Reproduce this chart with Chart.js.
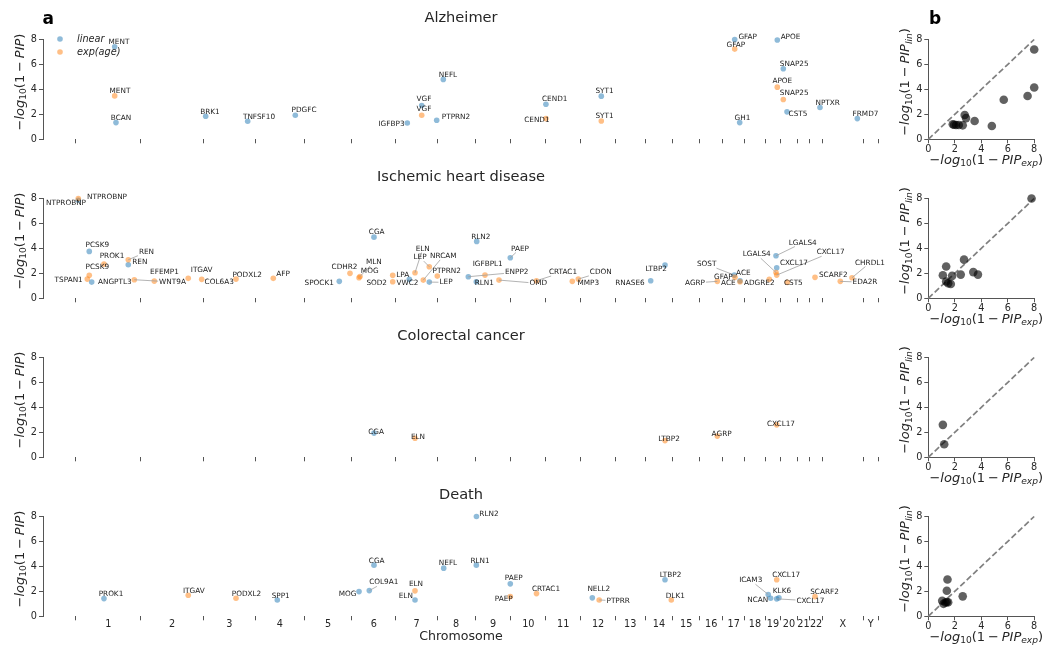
<!DOCTYPE html>
<html>
<head>
<meta charset="utf-8">
<title>Protein fine-mapping by chromosome</title>
<script src="https://cdn.jsdelivr.net/npm/chart.js@4/dist/chart.umd.min.js"></script>
<style>
  html, body { margin: 0; padding: 0; background: #ffffff; }
  #figure { position: relative; width: 1047px; height: 651px; overflow: hidden; background: #ffffff; }
  #figure canvas { position: absolute; }
</style>
</head>
<body>
<div id="figure"></div>
<script>
// ---------- chromosomes (GRCh38 lengths, Mb) ----------
const chromosomes = ['1','2','3','4','5','6','7','8','9','10','11','12','13','14','15','16','17','18','19','20','21','22','X','Y'];
const chromLengthsMb = [248.96,242.19,198.30,190.21,181.54,170.81,159.35,145.14,138.39,133.80,135.09,133.28,114.36,107.04,101.99,90.34,83.26,80.37,58.62,64.44,46.71,50.82,156.04,57.23];

const diseases = ['Alzheimer', 'Ischemic heart disease', 'Colorectal cancer', 'Death'];

// [protein, chromosome, position (Mb), -log10(1 - PIP)]
const alzheimerLinear = [
  ['MENT','1',149.0,7.42], ['BCAN','1',154.0,1.34], ['BRK1','3',8.3,1.85], ['TNFSF10','3',170.0,1.45],
  ['PDGFC','4',155.0,1.93], ['IGFBP3','7',43.7,1.31], ['VGF','7',99.2,2.71], ['PTPRN2','7',156.9,1.53],
  ['NEFL','8',23.0,4.80], ['CEND1','11',0.8,2.81], ['SYT1','12',78.9,3.46], ['GFAP','17',45.6,8.00],
  ['GH1','17',64.8,1.34], ['APOE','19',46.0,7.96], ['SNAP25','20',10.5,5.65], ['CST5','20',24.8,2.20],
  ['NPTXR','22',40.6,2.55], ['FRMD7','X',133.5,1.66]
];
const alzheimerExp = [
  ['MENT','1',149.0,3.48], ['VGF','7',99.2,1.93], ['CEND1','11',0.8,1.66], ['SYT1','12',78.9,1.47],
  ['GFAP','17',45.6,7.23], ['APOE','19',46.0,4.18], ['SNAP25','20',10.5,3.19]
];

const ischemicLinear = [
  ['NTPROBNP','1',8.9,7.86], ['PCSK9','1',51.2,3.76], ['ANGPTL3','1',60.5,1.30], ['REN','1',201.4,2.69],
  ['SPOCK1','5',134.2,1.36], ['CGA','6',86.3,4.90], ['VWC2','7',51.4,1.52], ['LEP','7',128.4,1.30],
  ['ENPP2','8',119.3,1.73], ['RLN2','9',6.4,4.56], ['RLN1','9',4.9,1.33], ['PAEP','9',135.8,3.25],
  ['RNASE6','14',21.5,1.41], ['LTBP2','14',76.6,2.66], ['SOST','17',44.0,1.86], ['ACE','17',66.0,1.40],
  ['LGALS4','19',41.0,3.41], ['CXCL17','19',43.7,2.45]
];
const ischemicExp = [
  ['NTPROBNP','1',8.9,8.00], ['TSPAN1','1',43.5,1.54], ['PCSK9','1',51.2,1.84], ['PROK1','1',107.8,2.74],
  ['REN','1',201.4,3.09], ['WNT9A','1',224.5,1.49], ['EFEMP1','2',52.5,1.38], ['ITGAV','2',183.3,1.60],
  ['COL6A3','2',235.1,1.52], ['PODXL2','3',125.0,1.54], ['AFP','4',70.3,1.60], ['CDHR2','5',175.4,2.00],
  ['MOG','6',28.6,1.65], ['MLN','6',32.4,1.75], ['LPA','6',158.3,1.84], ['SOD2','6',158.3,1.33],
  ['ELN','7',73.4,2.05], ['NRCAM','7',105.3,1.46], ['LEP','7',128.4,2.53], ['PTPRN2','7',159.2,1.78],
  ['IGFBPL1','9',38.4,1.86], ['OMD','9',92.3,1.46], ['CRTAC1','10',98.3,1.41], ['MMP3','11',102.4,1.36],
  ['CDON','11',125.5,1.54], ['AGRP','16',69.0,1.36], ['GFAP','17',46.7,1.68], ['ACE','17',66.0,1.33],
  ['ADGRE2','19',15.2,1.52], ['LGALS4','19',41.0,2.07], ['CXCL17','19',43.7,1.86], ['CST5','20',26.0,1.28],
  ['SCARF2','22',21.4,1.68], ['EDA2R','X',68.0,1.36], ['CHRDL1','X',113.0,1.65]
];

const colorectalLinear = [ ['CGA','6',86.3,1.94] ];
const colorectalExp = [ ['ELN','7',73.4,1.53], ['LTBP2','14',76.6,1.34], ['AGRP','16',69.0,1.70], ['CXCL17','19',43.7,2.60] ];

const deathLinear = [
  ['PROK1','1',107.8,1.42], ['SPP1','4',85.7,1.31], ['MOG','6',28.6,1.98], ['COL9A1','6',68.2,2.06],
  ['CGA','6',86.3,4.10], ['ELN','7',73.4,1.31], ['NEFL','8',24.5,3.86], ['RLN2','9',5.5,8.00],
  ['RLN1','9',5.0,4.10], ['PAEP','9',135.8,2.60], ['NELL2','12',44.3,1.48], ['LTBP2','14',76.6,2.93],
  ['ICAM3','19',11.0,1.75], ['NCAN','19',20.3,1.45], ['CXCL17','19',43.7,1.40], ['KLK6','19',52.2,1.48]
];
const deathExp = [
  ['ITGAV','2',183.3,1.69], ['PODXL2','3',125.0,1.45], ['ELN','7',73.4,2.04], ['PAEP','9',135.8,1.58],
  ['CRTAC1','10',98.3,1.82], ['PTPRR','12',70.8,1.31], ['DLK1','14',100.8,1.31], ['CXCL17','19',43.7,2.93],
  ['SCARF2','22',21.4,1.58]
];

// panel b: [-log10(1 - PIP_exp), -log10(1 - PIP_lin)]
const alzheimerPipPairs = [[8.0,7.2],[8.0,4.15],[7.5,3.47],[5.7,3.17],[3.5,1.47],[4.8,1.07],[2.75,1.95],[2.85,1.7],[1.85,1.2],[1.95,1.17],[2.1,1.15],[2.3,1.15],[2.6,1.12]];
const ischemicPipPairs = [[7.8,8.0],[2.7,3.1],[3.4,2.1],[3.75,1.9],[2.45,1.9],[1.35,2.55],[1.1,1.85],[1.8,1.8],[1.35,1.35],[1.5,1.2],[1.7,1.15]];
const colorectalPipPairs = [[1.1,2.6],[1.2,1.05]];
const deathPipPairs = [[1.45,2.95],[1.4,2.05],[2.6,1.6],[1.05,1.25],[1.15,1.0],[1.3,1.1],[1.5,1.12],[1.4,1.15]];

const yTickValues = [0, 2, 4, 6, 8];

// ---------- label placement (pixel offsets from the marker: dx, dy, connector) ----------
const labelPlacement = {
  '0|lin|MENT':[4.3,-4.7], '0|lin|BCAN':[5,-4.3], '0|lin|BRK1':[4.3,-4.5], '0|lin|TNFSF10':[11.3,-4],
  '0|lin|PDGFC':[8.7,-5], '0|lin|IGFBP3':[-15.8,1.3], '0|lin|VGF':[2.3,-6.3], '0|lin|PTPRN2':[19.3,-3.3],
  '0|lin|NEFL':[4.7,-4.3], '0|lin|CEND1':[8.8,-5.5], '0|lin|SYT1':[3.2,-4.7], '0|lin|GFAP':[13,-2],
  '0|lin|GH1':[2.8,-4.5], '0|lin|APOE':[13.2,-2.7], '0|lin|SNAP25':[10.9,-4.5], '0|lin|CST5':[11,2.5],
  '0|lin|NPTXR':[7.7,-4.6], '0|lin|FRMD7':[8.2,-4.3],
  '0|exp|MENT':[5.3,-5], '0|exp|VGF':[2.3,-6], '0|exp|CEND1':[-9,1.2], '0|exp|SYT1':[3.2,-4.5],
  '0|exp|GFAP':[1.1,-4.2], '0|exp|APOE':[5,-6.2], '0|exp|SNAP25':[10.9,-6],

  '1|lin|NTPROBNP':[-12.3,3.3], '1|lin|PCSK9':[8,-6.5], '1|lin|ANGPTL3':[23.1,0], '1|lin|REN':[11.5,-2.2],
  '1|lin|SPOCK1':[-20.1,1.4], '1|lin|CGA':[2.7,-5], '1|lin|VWC2':[-1.8,3.4], '1|lin|LEP':[16.7,0.3,1],
  '1|lin|ENPP2':[48.4,-4.4,1], '1|lin|RLN2':[4.1,-4.6], '1|lin|RLN1':[8,1], '1|lin|PAEP':[9.7,-9,1],
  '1|lin|RNASE6':[-20.7,2.6], '1|lin|LTBP2':[-8.8,3.7], '1|lin|SOST':[-27.6,-10.7,1], '1|lin|ACE':[3.3,-7.7],
  '1|lin|LGALS4':[26.7,-13,1], '1|lin|CXCL17':[17.3,-5],
  '1|exp|NTPROBNP':[28.7,-1.5], '1|exp|PCSK9':[8,-8.1], '1|exp|TSPAN1':[-18.6,1], '1|exp|PROK1':[8,-8],
  '1|exp|REN':[18.2,-7.7,1], '1|exp|WNT9A':[38.2,2.3,1], '1|exp|EFEMP1':[10.2,-8.5], '1|exp|ITGAV':[13.4,-8],
  '1|exp|COL6A3':[17.5,2.7], '1|exp|PODXL2':[11.2,-4], '1|exp|AFP':[9.7,-4.6], '1|exp|CDHR2':[-5.5,-6],
  '1|exp|MOG':[10.7,-6.4], '1|exp|MLN':[13.8,-14.4,1], '1|exp|LPA':[10.1,0], '1|exp|SOD2':[-16,1],
  '1|exp|ELN':[7.7,-24,1], '1|exp|NRCAM':[20,-24,1], '1|exp|LEP':[-9.3,-9.4,1], '1|exp|PTPRN2':[9.4,-4.7],
  '1|exp|IGFBPL1':[2.7,-11], '1|exp|OMD':[39.3,3.3,1], '1|exp|CRTAC1':[26.5,-8.5,1], '1|exp|MMP3':[16,2],
  '1|exp|CDON':[22.5,-6.8,1], '1|exp|AGRP':[-22.3,1.6,1], '1|exp|GFAP':[-11.7,-0.6], '1|exp|ACE':[-11.7,1],
  '1|exp|ADGRE2':[-10,3.4], '1|exp|LGALS4':[-19.3,-18,1], '1|exp|CXCL17':[54,-22.6,1], '1|exp|CST5':[6,0.4],
  '1|exp|SCARF2':[18.3,-2], '1|exp|EDA2R':[24.7,1,1], '1|exp|CHRDL1':[18,-15,1],

  '2|lin|CGA':[2,-1.3], '2|exp|ELN':[3,-1.4], '2|exp|LTBP2':[4,-1.2], '2|exp|AGRP':[4.3,-1.5], '2|exp|CXCL17':[4.3,-0.6],

  '3|lin|PROK1':[7,-4], '3|lin|SPP1':[3.4,-3.7], '3|lin|MOG':[-11.5,2.3], '3|lin|COL9A1':[14.5,-8,1],
  '3|lin|CGA':[2.7,-4.3], '3|lin|ELN':[-9.2,-4], '3|lin|NEFL':[4.3,-4.6], '3|lin|RLN2':[12.5,-2],
  '3|lin|RLN1':[3.7,-4.3], '3|lin|PAEP':[3.4,-5.7], '3|lin|NELL2':[6.5,-8.3], '3|lin|LTBP2':[5.5,-4.7],
  '3|lin|ICAM3':[-17.5,-14,1], '3|lin|NCAN':[-12.9,1.7], '3|lin|KLK6':[3,-6.7], '3|lin|CXCL17':[33.8,2,1],
  '3|exp|ITGAV':[5.6,-4.3], '3|exp|PODXL2':[10.5,-4.3], '3|exp|ELN':[1,-6.3], '3|exp|PAEP':[-6.5,2.3],
  '3|exp|CRTAC1':[9.5,-4.7], '3|exp|PTPRR':[19,1,1], '3|exp|DLK1':[4,-4], '3|exp|CXCL17':[9.5,-4.7],
  '3|exp|SCARF2':[9.5,-4.7]
};

// ---------- derived genome coordinates ----------
const chromStartMb = [];
chromLengthsMb.reduce((acc, len, i) => { chromStartMb[i] = acc; return acc + len; }, 0);
const genomeEndMb = chromStartMb[chromStartMb.length - 1] + chromLengthsMb[chromLengthsMb.length - 1];
const boundaryValues = chromStartMb.concat([genomeEndMb]);
const centreValues = chromStartMb.map((s, i) => s + chromLengthsMb[i] / 2);
const boundarySet = new Set(boundaryValues);
const centreLabel = new Map(centreValues.map((v, i) => [v, chromosomes[i]]));
const chromTickValues = boundaryValues.concat(centreValues).sort((a, b) => a - b);

function genomePos(chrom, posMb) { return chromStartMb[chromosomes.indexOf(chrom)] + posMb; }
function toPoints(rows) { return rows.map(([gene, chrom, pos, score]) => ({ x: genomePos(chrom, pos), y: score, gene })); }

const linearByDisease = [alzheimerLinear, ischemicLinear, colorectalLinear, deathLinear];
const expByDisease = [alzheimerExp, ischemicExp, colorectalExp, deathExp];
const pairsByDisease = [alzheimerPipPairs, ischemicPipPairs, colorectalPipPairs, deathPipPairs];

// ---------- styling ----------
const FONT = '"DejaVu Sans", sans-serif';
const TEXT = '#262626';
const SPINE = '#555555';
const LINEAR_COLOR = 'rgba(31,119,180,0.5)';
const EXP_COLOR = 'rgba(255,127,14,0.5)';
const PAIR_COLOR = 'rgba(0,0,0,0.62)';

Chart.defaults.font.family = FONT;
Chart.defaults.color = TEXT;
Chart.defaults.animation = false;

const ROW_TOP = [0, 159, 318, 477];
const AREA_TOP = 39.5, AREA_BOTTOM = 139.3;

const Y_LABEL = [{t:'−'},{t:'log',it:1},{t:'10',sub:1},{t:'(1'},{gap:0.22},{t:'−'},{gap:0.22},{t:'PIP',it:1},{t:')'}];
const Y_LABEL_LIN = [{t:'−'},{t:'log',it:1},{t:'10',sub:1},{t:'(1'},{gap:0.22},{t:'−'},{gap:0.22},{t:'PIP',it:1},{t:'lin',it:1,sub:1},{t:')'}];
const X_LABEL_EXP = [{t:'−'},{t:'log',it:1},{t:'10',sub:1},{t:'(1'},{gap:0.22},{t:'−'},{gap:0.22},{t:'PIP',it:1},{t:'exp',it:1,sub:1},{t:')'}];

// draws a small math-style label: (x, y) is the baseline position across the text and its centre along it
function drawMath(ctx, parts, size, x, y, vertical) {
  const runs = parts.map(p => {
    if (p.gap) return { gap: p.gap * size };
    const s = p.sub ? size * 0.7 : size;
    const font = (p.it ? 'italic ' : '') + s + 'px ' + FONT;
    ctx.font = font;
    return { text: p.t, font, w: ctx.measureText(p.t).width, drop: p.sub ? size * 0.22 : 0 };
  });
  const total = runs.reduce((a, r) => a + (r.gap || r.w), 0);
  ctx.save();
  ctx.translate(x, y);
  if (vertical) ctx.rotate(-Math.PI / 2);
  ctx.textAlign = 'left';
  ctx.textBaseline = 'alphabetic';
  ctx.fillStyle = TEXT;
  let cx = -total / 2;
  runs.forEach(r => {
    if (r.gap) { cx += r.gap; return; }
    ctx.font = r.font;
    ctx.fillText(r.text, cx, r.drop);
    cx += r.w;
  });
  ctx.restore();
}

const manhattanDecor = {
  id: 'manhattanDecor',
  afterDatasetsDraw(chart, _args, o) {
    const ctx = chart.ctx;
    ctx.save();
    ctx.font = '7.3px ' + FONT;
    const items = [];
    chart.data.datasets.forEach((ds, di) => {
      const meta = chart.getDatasetMeta(di);
      meta.data.forEach((el, i) => {
        const gene = ds.data[i].gene;
        const place = labelPlacement[o.row + '|' + ds.series + '|' + gene] || [4, -5, 0];
        items.push({ gene, px: el.x, py: el.y, lx: el.x + place[0], ly: el.y + place[1], connector: place[2] });
      });
    });
    ctx.strokeStyle = '#a0a0a0';
    ctx.lineWidth = 0.8;
    items.forEach(it => {
      if (!it.connector) return;
      const hw = ctx.measureText(it.gene).width / 2 + 1, hh = 3.8;
      const vx = it.px - it.lx, vy = it.py - it.ly;
      const t = Math.min(vx ? hw / Math.abs(vx) : Infinity, vy ? hh / Math.abs(vy) : Infinity);
      if (t >= 1) return;
      ctx.beginPath();
      ctx.moveTo(it.lx + vx * t, it.ly + vy * t);
      ctx.lineTo(it.px, it.py);
      ctx.stroke();
    });
    ctx.fillStyle = '#1a1a1a';
    ctx.textAlign = 'center';
    ctx.textBaseline = 'middle';
    items.forEach(it => ctx.fillText(it.gene, it.lx, it.ly));
    ctx.restore();
  },
  afterDraw(chart, _args, o) {
    const ctx = chart.ctx, area = chart.chartArea;
    ctx.save();
    ctx.fillStyle = TEXT;
    ctx.font = '14.6px ' + FONT;
    ctx.textAlign = 'center';
    ctx.textBaseline = 'alphabetic';
    ctx.fillText(o.title, (area.left + area.right) / 2, 21.7);
    if (o.letter) {
      ctx.font = 'bold 17px ' + FONT;
      ctx.fillStyle = '#000';
      ctx.fillText(o.letter, 48.3, 24);
    }
    if (o.legend) {
      const entries = [['linear', LINEAR_COLOR, 39], ['exp(age)', EXP_COLOR, 52]];
      ctx.font = 'italic 9.7px ' + FONT;
      ctx.textAlign = 'left';
      ctx.textBaseline = 'middle';
      entries.forEach(([name, colour, y]) => {
        ctx.fillStyle = colour;
        ctx.beginPath(); ctx.arc(60, y, 2.8, 0, Math.PI * 2); ctx.fill();
        ctx.fillStyle = TEXT;
        ctx.fillText(name, 77, y);
      });
    }
    ctx.restore();
    drawMath(ctx, Y_LABEL, 13, 23.5, 82, true);
  }
};

const pairDecor = {
  id: 'pairDecor',
  afterDraw(chart, _args, o) {
    const ctx = chart.ctx, area = chart.chartArea;
    drawMath(ctx, Y_LABEL_LIN, 13, area.left - 19.5, 82, true);
    drawMath(ctx, X_LABEL_EXP, 13, (area.left + area.right) / 2 + 5, 163.5, false);
    if (o.letter) {
      ctx.save();
      ctx.font = 'bold 17px ' + FONT;
      ctx.fillStyle = '#000';
      ctx.textAlign = 'center';
      ctx.fillText(o.letter, 55, 24);
      ctx.restore();
    }
  }
};

const fig = document.getElementById('figure');
function makeCanvas(left, top, w, h) {
  const c = document.createElement('canvas');
  c.width = w; c.height = h;
  c.style.left = left + 'px'; c.style.top = top + 'px';
  c.style.width = w + 'px'; c.style.height = h + 'px';
  fig.appendChild(c);
  return c;
}

function yAxis(width) {
  return {
    type: 'linear', min: 0, max: 8,
    ticks: { stepSize: 2, padding: 2, font: { size: 9.7 }, color: TEXT },
    afterBuildTicks: s => { s.ticks = yTickValues.map(v => ({ value: v })); },
    grid: { drawOnChartArea: false, drawTicks: true, tickLength: 4, tickColor: SPINE, tickWidth: 1 },
    border: { display: true, color: SPINE, width: 1 },
    afterFit: s => { s.width = width; }
  };
}

// ---------- panel a: genome-wide PIP per disease ----------
diseases.forEach((name, r) => {
  const last = r === diseases.length - 1;
  const W = 890, H = last ? 174 : 159;
  const canvas = makeCanvas(0, ROW_TOP[r], W, H);
  new Chart(canvas, {
    type: 'scatter',
    data: {
      datasets: [
        { series: 'exp', data: toPoints(expByDisease[r]), backgroundColor: EXP_COLOR, borderWidth: 0, pointRadius: 2.8, pointHoverRadius: 2.8, clip: false },
        { series: 'lin', data: toPoints(linearByDisease[r]), backgroundColor: LINEAR_COLOR, borderWidth: 0, pointRadius: 2.8, pointHoverRadius: 2.8, clip: false }
      ]
    },
    options: {
      responsive: false, devicePixelRatio: 1, events: [],
      layout: { padding: { top: AREA_TOP, right: W - 879, left: 0, bottom: 0 } },
      plugins: {
        legend: { display: false }, tooltip: { enabled: false },
        manhattanDecor: { row: r, title: name, letter: r === 0 ? 'a' : null, legend: r === 0 }
      },
      scales: {
        x: {
          type: 'linear', min: -127, max: 3092,
          afterBuildTicks: s => { s.ticks = chromTickValues.map(v => ({ value: v })); },
          ticks: {
            display: last, autoSkip: false, maxRotation: 0, minRotation: 0, padding: -2,
            font: { size: 9.7 }, color: TEXT,
            callback: v => centreLabel.get(v) || ''
          },
          grid: {
            drawOnChartArea: false, drawTicks: true, tickLength: 4, tickWidth: 1,
            color: c => (c.tick && boundarySet.has(c.tick.value)) ? SPINE : 'rgba(0,0,0,0)',
            tickColor: c => (c.tick && boundarySet.has(c.tick.value)) ? SPINE : 'rgba(0,0,0,0)'
          },
          border: { display: false },
          title: { display: last, text: 'Chromosome', font: { size: 12.6 }, color: TEXT, padding: { top: 0, bottom: 7 } },
          afterFit: s => { s.height = H - AREA_BOTTOM; }
        },
        y: yAxis(43)
      }
    },
    plugins: [manhattanDecor]
  });
});

// ---------- panel b: linear vs exp(age) PIP ----------
pairsByDisease.forEach((pairs, r) => {
  const W = 167, H = r === 3 ? 174 : 172;
  const canvas = makeCanvas(880, ROW_TOP[r], W, H);
  new Chart(canvas, {
    type: 'scatter',
    data: {
      datasets: [
        { data: pairs.map(([x, y]) => ({ x, y })), backgroundColor: PAIR_COLOR, borderWidth: 0, pointRadius: 4.3, pointHoverRadius: 4.3, clip: false },
        { type: 'line', data: [{ x: 0, y: 0 }, { x: 8, y: 8 }], borderColor: '#808080', borderWidth: 1.7, borderDash: [6, 2.8], pointRadius: 0, fill: false, clip: false }
      ]
    },
    options: {
      responsive: false, devicePixelRatio: 1, events: [],
      layout: { padding: { top: AREA_TOP, right: W - 154.2, left: 0, bottom: 0 } },
      plugins: { legend: { display: false }, tooltip: { enabled: false }, pairDecor: { letter: r === 0 ? 'b' : null } },
      scales: {
        x: {
          type: 'linear', min: 0, max: 8,
          afterBuildTicks: s => { s.ticks = yTickValues.map(v => ({ value: v })); },
          ticks: { padding: 0, font: { size: 9.7 }, color: TEXT, maxRotation: 0 },
          grid: { drawOnChartArea: false, drawTicks: true, tickLength: 4, tickColor: SPINE, tickWidth: 1 },
          border: { display: true, color: SPINE, width: 1 },
          afterFit: s => { s.height = H - AREA_BOTTOM; }
        },
        y: yAxis(48.3)
      }
    },
    plugins: [pairDecor]
  });
});
</script>
</body>
</html>
